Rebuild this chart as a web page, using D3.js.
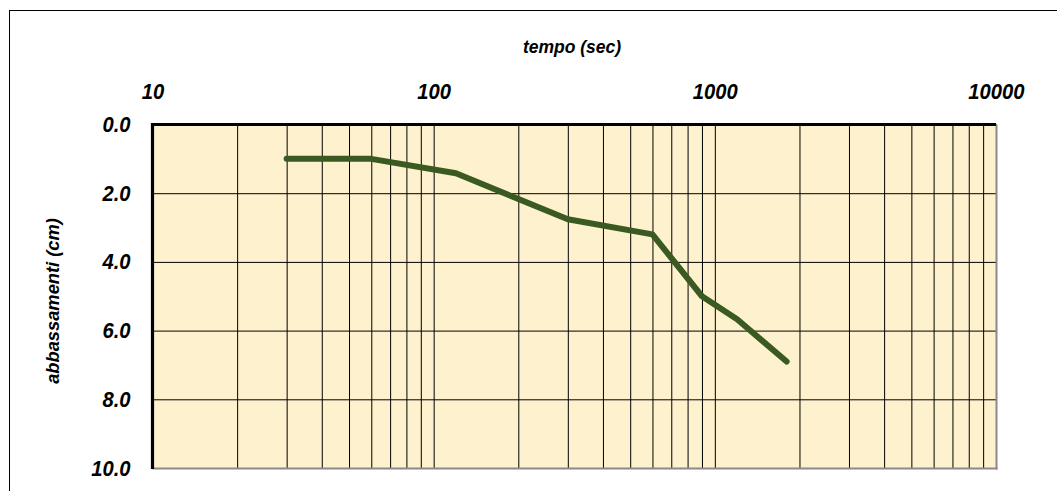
<!DOCTYPE html>
<html>
<head>
<meta charset="utf-8">
<script src="https://cdn.jsdelivr.net/npm/d3@7"></script>
<style>
  html, body { margin: 0; padding: 0; background: #fff; }
  svg { display: block; }
  text { font-family: "Liberation Sans", Arial, sans-serif; font-style: italic; font-weight: bold; fill: #000; }
</style>
</head>
<body>
<svg id="chart" width="1057" height="491"></svg>
<script>
// Settlement readings: elapsed time (s) and settlement (cm)
const tempo = [30, 60, 120, 300, 600, 900, 1200, 1800];
const abbassamenti = [1.0, 1.0, 1.42, 2.76, 3.2, 5.0, 5.67, 6.9];

// Axis ticks and labels
const xLabelTicks = [10, 100, 1000, 10000];
const yTicks = [0, 2, 4, 6, 8, 10];
const xTitle = "tempo (sec)";
const yTitle = "abbassamenti (cm)";

const svg = d3.select("#chart");
const margin = { left: 152.5, top: 124.5, right: 996, bottom: 468 };
const W = margin.right - margin.left;
const H = margin.bottom - margin.top;

const x = d3.scaleLog().domain([10, 10000]).range([margin.left, margin.right]);
const y = d3.scaleLinear().domain([0, 10]).range([margin.top, margin.bottom]);

// Tick labels use a slightly condensed bold italic face
const labelSize = 22;
const squeeze = 0.92;

// Outer chart-area frame
svg.append("rect")
  .attr("x", 9.5).attr("y", 10.5)
  .attr("width", 1100).attr("height", 600)
  .attr("fill", "none").attr("stroke", "#000").attr("stroke-width", 1);

// Plot background
svg.append("rect")
  .attr("x", margin.left).attr("y", margin.top)
  .attr("width", W).attr("height", H)
  .attr("fill", "#fef1cd");

// Vertical grid (every log minor tick)
const xGrid = svg.append("g")
  .attr("transform", `translate(0,${margin.bottom})`)
  .call(d3.axisBottom(x).ticks(30).tickSize(-H).tickFormat(""));
xGrid.select(".domain").remove();
xGrid.selectAll("line").attr("stroke", "#000").attr("stroke-width", 1);

// Horizontal grid
const yGrid = svg.append("g")
  .attr("transform", `translate(${margin.left},0)`)
  .call(d3.axisLeft(y).tickValues(yTicks.slice(1, -1)).tickSize(-W).tickFormat(""));
yGrid.select(".domain").remove();
yGrid.selectAll("line").attr("stroke", "#000").attr("stroke-width", 1);

// Right and bottom edges of the plot area
svg.append("line")
  .attr("x1", margin.right + 0.5).attr("x2", margin.right + 0.5)
  .attr("y1", margin.top).attr("y2", margin.bottom + 1.5)
  .attr("stroke", "#8a8a8a").attr("stroke-width", 2);
svg.append("line")
  .attr("x1", margin.left).attr("x2", margin.right + 1.5)
  .attr("y1", margin.bottom + 0.5).attr("y2", margin.bottom + 0.5)
  .attr("stroke", "#8a8a8a").attr("stroke-width", 2);

// Heavy top and left axis lines
svg.append("line")
  .attr("x1", margin.left - 1.5).attr("x2", margin.right)
  .attr("y1", margin.top).attr("y2", margin.top)
  .attr("stroke", "#000").attr("stroke-width", 3.2);
svg.append("line")
  .attr("x1", margin.left).attr("x2", margin.left)
  .attr("y1", margin.top - 1.5).attr("y2", margin.bottom + 1)
  .attr("stroke", "#000").attr("stroke-width", 3.2);

// Top axis labels (decades)
const xAxis = svg.append("g")
  .attr("transform", `translate(0,${margin.top})`)
  .call(d3.axisTop(x).tickValues(xLabelTicks).tickSize(0).tickPadding(26)
    .tickFormat(d3.format("d")));
xAxis.select(".domain").remove();
xAxis.selectAll("text")
  .style("font-family", "'Liberation Sans', Arial, sans-serif")
  .style("font-size", labelSize + "px").style("font-style", "italic").style("font-weight", "bold")
  .attr("transform", `scale(${squeeze},1)`)
  .attr("fill", "#000");

// Left axis labels
const yPad = 22;
const yAxis = svg.append("g")
  .attr("transform", `translate(${margin.left},0)`)
  .call(d3.axisLeft(y).tickValues(yTicks).tickSize(0).tickPadding(yPad)
    .tickFormat(d3.format(".1f")));
yAxis.select(".domain").remove();
yAxis.selectAll("text")
  .style("font-family", "'Liberation Sans', Arial, sans-serif")
  .style("font-size", labelSize + "px").style("font-style", "italic").style("font-weight", "bold")
  .attr("x", -yPad / squeeze)
  .attr("transform", `scale(${squeeze},1)`)
  .attr("fill", "#000");

// Axis titles
svg.append("text")
  .attr("x", 572).attr("y", 53)
  .attr("text-anchor", "middle")
  .style("font-size", "17.5px")
  .text(xTitle);
svg.append("text")
  .attr("transform", "translate(59,301) rotate(-90)")
  .attr("text-anchor", "middle")
  .style("font-size", "18.3px")
  .text(yTitle);

// Settlement curve
const line = d3.line()
  .x((d, i) => x(tempo[i]))
  .y(d => y(d));
svg.append("path")
  .datum(abbassamenti)
  .attr("d", line)
  .attr("fill", "none")
  .attr("stroke", "#3a5a22")
  .attr("stroke-width", 6)
  .attr("stroke-linejoin", "round")
  .attr("stroke-linecap", "round");
</script>
</body>
</html>
